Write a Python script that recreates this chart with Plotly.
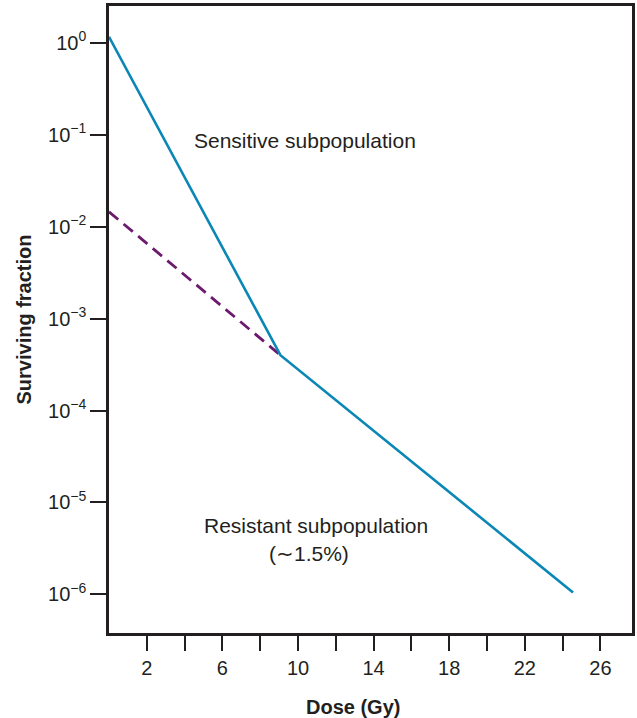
import plotly.graph_objects as go

# ---- data ----
dose_total = [0, 9.07, 24.55]               # Gy
sf_total = [1.16, 4.0e-4, 1.05e-6]          # surviving fraction (solid line)
dose_extrap = [0, 9.07]                     # Gy
sf_extrap = [0.0145, 4.0e-4]                # extrapolated resistant component (dashed)

x_tickvals = [2, 6, 10, 14, 18, 22, 26]
x_ticktext = ["2", "6", "10", "14", "18", "22", "26"]
x_minor_tickvals = [4, 8, 12, 16, 20, 24]
y_tickvals = [1, 1e-1, 1e-2, 1e-3, 1e-4, 1e-5, 1e-6]
y_ticktext = ["10<sup>0</sup>", "10<sup>\u22121</sup>", "10<sup>\u22122</sup>",
              "10<sup>\u22123</sup>", "10<sup>\u22124</sup>", "10<sup>\u22125</sup>",
              "10<sup>\u22126</sup>"]

BLUE = "#0b87b6"
PURPLE = "#6c1a6e"
INK = "#231f20"
FONT = "Liberation Sans, Arial, Helvetica, sans-serif"

fig = go.Figure()
fig.add_trace(go.Scatter(x=dose_extrap, y=sf_extrap, mode="lines",
                         line=dict(color=PURPLE, width=2.8, dash="12px,7px"),
                         showlegend=False, hoverinfo="skip"))
fig.add_trace(go.Scatter(x=dose_total, y=sf_total, mode="lines",
                         line=dict(color=BLUE, width=2.6),
                         showlegend=False, hoverinfo="skip"))

plot_w = 637 - 109 - 2
plot_h = 718 - 6 - 85

fig.update_layout(
    width=637, height=718,
    margin=dict(l=109, r=2, t=6, b=85),
    paper_bgcolor="white", plot_bgcolor="white",
    font=dict(family=FONT, size=20, color=INK),
    xaxis=dict(range=[0, 27.67], showgrid=False, zeroline=False,
               showline=True, mirror=True, linewidth=2.5, linecolor=INK,
               ticks="outside", ticklen=15, tickwidth=1.5, tickcolor=INK,
               tickvals=x_tickvals, ticktext=x_ticktext,
               minor=dict(tickvals=x_minor_tickvals, ticks="outside", ticklen=15,
                          tickwidth=1.5, tickcolor=INK, showgrid=False),
               tickfont=dict(size=20, color=INK, family=FONT)),
    yaxis=dict(type="log", range=[-6.42, 0.40], showgrid=False, zeroline=False,
               showline=True, mirror=True, linewidth=2.5, linecolor=INK,
               ticks="outside", ticklen=16, tickwidth=1.5, tickcolor=INK,
               tickvals=y_tickvals, ticktext=y_ticktext,
               tickfont=dict(size=20, color=INK, family=FONT),
               title=dict(text="<b>Surviving fraction</b>", standoff=12,
                          font=dict(size=20, color=INK, family=FONT))),
    annotations=[
        dict(text="Sensitive subpopulation", x=10.37, y=-1.059, xref="x", yref="y",
             showarrow=False, font=dict(size=21, color=INK, family=FONT)),
        dict(text="Resistant subpopulation", x=10.93, y=-5.248, xref="x", yref="y",
             showarrow=False, font=dict(size=21, color=INK, family=FONT)),
        dict(text="(\u223c1.5%)", x=10.59, y=-5.56, xref="x", yref="y",
             showarrow=False, font=dict(size=21, color=INK, family=FONT)),
        dict(text="<b>Dose (Gy)</b>", x=(354 - 109) / plot_w,
             y=(718 - 85 - 707) / plot_h, xref="paper", yref="paper",
             xanchor="center", yanchor="middle",
             showarrow=False, font=dict(size=20, color=INK, family=FONT)),
    ],
)

fig.write_html("out.html")
